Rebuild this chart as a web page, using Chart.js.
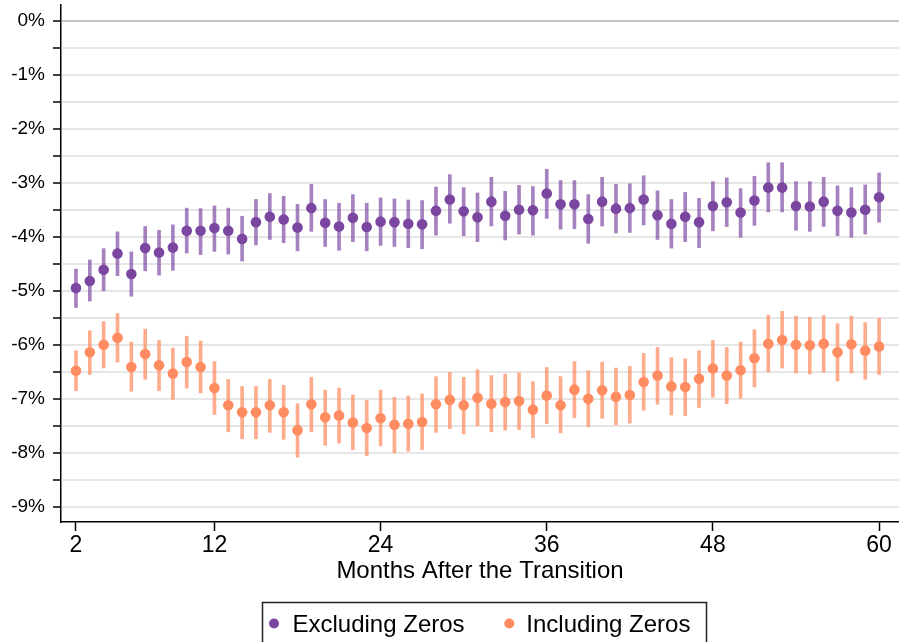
<!DOCTYPE html>
<html>
<head>
<meta charset="utf-8">
<script src="https://cdn.jsdelivr.net/npm/chart.js@4.4.1/dist/chart.umd.min.js"></script>
<style>
html,body{margin:0;padding:0;background:#ffffff;}
#wrap{width:899px;height:642px;position:relative;overflow:hidden;}
</style>
</head>
<body>
<div id="wrap"><canvas id="c" width="899" height="642"></canvas></div>
<script>
// ---- data ----
const months = [2,3,4,5,6,7,8,9,10,11,12,13,14,15,16,17,18,19,20,21,22,23,24,25,26,27,28,29,30,31,32,33,34,35,36,37,38,39,40,41,42,43,44,45,46,47,48,49,50,51,52,53,54,55,56,57,58,59,60];

const seriesNames = ['Excluding Zeros', 'Including Zeros'];

const exclEst = [-4.95,-4.82,-4.61,-4.31,-4.69,-4.21,-4.29,-4.20,-3.89,-3.89,-3.84,-3.89,-4.04,-3.73,-3.63,-3.68,-3.83,
  -3.47,-3.74,-3.81,-3.65,-3.82,-3.72,-3.73,-3.76,-3.77,-3.52,-3.31,-3.53,-3.64,-3.35,-3.61,-3.50,-3.51,-3.20,-3.40,-3.40,-3.67,
  -3.35,-3.48,-3.47,-3.31,-3.60,-3.76,-3.63,-3.73,-3.43,-3.36,-3.55,-3.33,-3.09,-3.09,-3.43,-3.44,-3.35,-3.52,-3.55,-3.50,-3.27];
const exclLo = [-5.31,-5.19,-5.00,-4.72,-5.10,-4.63,-4.71,-4.62,-4.30,-4.33,-4.27,-4.32,-4.45,-4.15,-4.05,-4.11,-4.26,
  -3.90,-4.18,-4.25,-4.09,-4.26,-4.16,-4.18,-4.20,-4.22,-3.97,-3.75,-3.98,-4.09,-3.80,-4.06,-3.95,-3.97,-3.66,-3.86,-3.85,-4.12,
  -3.80,-3.93,-3.92,-3.78,-4.05,-4.21,-4.09,-4.20,-3.89,-3.81,-4.01,-3.79,-3.54,-3.54,-3.88,-3.90,-3.81,-3.98,-4.01,-3.95,-3.73];
const exclHi = [-4.60,-4.43,-4.22,-3.91,-4.28,-3.81,-3.88,-3.78,-3.47,-3.48,-3.43,-3.47,-3.62,-3.31,-3.20,-3.25,-3.40,
  -3.03,-3.31,-3.38,-3.22,-3.38,-3.28,-3.30,-3.32,-3.33,-3.08,-2.85,-3.09,-3.19,-2.90,-3.16,-3.05,-3.07,-2.75,-2.96,-2.96,-3.22,
  -2.90,-3.03,-3.02,-2.87,-3.15,-3.31,-3.18,-3.29,-2.98,-2.91,-3.11,-2.88,-2.63,-2.63,-2.98,-2.98,-2.90,-3.06,-3.09,-3.04,-2.82];

const inclEst = [-6.48,-6.14,-6.00,-5.87,-6.41,-6.17,-6.38,-6.53,-6.32,-6.41,-6.80,-7.12,-7.25,-7.25,-7.12,-7.25,-7.58,
  -7.10,-7.34,-7.31,-7.44,-7.54,-7.36,-7.48,-7.46,-7.43,-7.10,-7.02,-7.12,-6.98,-7.09,-7.06,-7.04,-7.20,-6.94,-7.12,-6.83,-7.00,
  -6.84,-6.96,-6.93,-6.69,-6.57,-6.77,-6.78,-6.63,-6.44,-6.57,-6.47,-6.25,-5.98,-5.91,-6.00,-6.01,-5.98,-6.14,-5.99,-6.11,-6.03];
const inclLo = [-6.85,-6.55,-6.43,-6.32,-6.86,-6.64,-6.85,-7.01,-6.80,-6.89,-7.29,-7.61,-7.74,-7.74,-7.62,-7.75,-8.08,
  -7.61,-7.86,-7.82,-7.94,-8.05,-7.87,-8.00,-7.97,-7.94,-7.62,-7.55,-7.65,-7.50,-7.61,-7.58,-7.57,-7.72,-7.46,-7.63,-7.35,-7.52,
  -7.36,-7.48,-7.45,-7.21,-7.10,-7.30,-7.31,-7.16,-6.97,-7.09,-6.99,-6.78,-6.50,-6.43,-6.52,-6.54,-6.51,-6.67,-6.52,-6.64,-6.55];
const inclHi = [-6.11,-5.74,-5.57,-5.42,-5.95,-5.71,-5.92,-6.06,-5.84,-5.93,-6.31,-6.64,-6.77,-6.77,-6.64,-6.75,-7.09,
  -6.60,-6.84,-6.80,-6.93,-7.03,-6.84,-6.97,-6.95,-6.91,-6.59,-6.51,-6.60,-6.46,-6.57,-6.54,-6.52,-6.68,-6.42,-6.59,-6.31,-6.48,
  -6.32,-6.43,-6.40,-6.16,-6.05,-6.24,-6.26,-6.11,-5.92,-6.05,-5.95,-5.72,-5.45,-5.38,-5.47,-5.49,-5.46,-5.61,-5.47,-5.59,-5.51];

const xTicks = [2,12,24,36,48,60];
const yTicks = [0,-0.5,-1,-1.5,-2,-2.5,-3,-3.5,-4,-4.5,-5,-5.5,-6,-6.5,-7,-7.5,-8,-8.5,-9];
const yMajor = [0,-1,-2,-3,-4,-5,-6,-7,-8,-9];
const yLabels = ['0%','-1%','-2%','-3%','-4%','-5%','-6%','-7%','-8%','-9%'];
const xTitle = 'Months After the Transition';

// ---- style ----
const FONT = "'Liberation Sans', Arial, Helvetica, sans-serif";
const PURPLE = '#7a46a0';
const PURPLE_BAR = 'rgba(122,70,160,0.68)';
const ORANGE = '#ff8c61';
const ORANGE_BAR = 'rgba(255,140,97,0.72)';

const pts = (ys) => months.map((m, i) => ({x: m, y: ys[i]}));
const bars = (lo, hi) => months.map((m, i) => ({x: m, y: [lo[i], hi[i]]}));

const noPad = s => { s.paddingTop = 0; s.paddingBottom = 0; s.paddingLeft = 0; s.paddingRight = 0; };

const legendBox = {
  id: 'legendBox',
  afterDraw(chart) {
    const ctx = chart.ctx;
    ctx.save();
    ctx.strokeStyle = '#222';
    ctx.lineWidth = 1.5;
    ctx.strokeRect(262.5, 602.5, 444, 60);
    const items = [
      {dot: 274, text: 292.5, color: PURPLE, label: seriesNames[0]},
      {dot: 509.3, text: 526.3, color: ORANGE, label: seriesNames[1]}
    ];
    ctx.font = '24px ' + FONT;
    ctx.textBaseline = 'alphabetic';
    ctx.textAlign = 'left';
    items.forEach(it => {
      ctx.fillStyle = it.color;
      ctx.beginPath();
      ctx.arc(it.dot, 623.5, 5, 0, Math.PI * 2);
      ctx.fill();
      ctx.fillStyle = '#000';
      ctx.fillText(it.label, it.text, 632);
    });
    ctx.restore();
  }
};

new Chart(document.getElementById('c'), {
  type: 'scatter',
  data: {
    datasets: [
      {type: 'scatter', label: seriesNames[0], data: pts(exclEst), backgroundColor: PURPLE, borderColor: PURPLE, pointRadius: 5.3, pointBorderWidth: 0, order: 0},
      {type: 'scatter', label: seriesNames[1], data: pts(inclEst), backgroundColor: ORANGE, borderColor: ORANGE, pointRadius: 5.3, pointBorderWidth: 0, order: 0},
      {type: 'bar', label: seriesNames[0] + ' CI', data: bars(exclLo, exclHi), backgroundColor: PURPLE_BAR, borderWidth: 0, barThickness: 3, grouped: false, order: 1},
      {type: 'bar', label: seriesNames[1] + ' CI', data: bars(inclLo, inclHi), backgroundColor: ORANGE_BAR, borderWidth: 0, barThickness: 3, grouped: false, order: 1}
    ]
  },
  options: {
    responsive: false,
    animation: false,
    devicePixelRatio: 1,
    layout: {autoPadding: false, padding: {top: 5, left: 0, right: 0, bottom: 0}},
    plugins: {legend: {display: false}, tooltip: {enabled: false}},
    scales: {
      x: {
        type: 'linear', min: 0.92, max: 61.44, offset: false,
        afterBuildTicks: s => { s.ticks = xTicks.map(v => ({value: v})); },
        afterFit: s => { s.height = 120; noPad(s); },
        grid: {offset: false, drawOnChartArea: false, drawTicks: true, tickLength: 9, tickColor: '#000', tickWidth: 1.5},
        border: {display: true, color: '#000', width: 1.5},
        ticks: {font: {size: 23, family: FONT}, color: '#000', padding: 1, maxRotation: 0, autoSkip: false},
        title: {display: true, text: xTitle, color: '#000', font: {size: 24, family: FONT}, padding: {top: 0, bottom: 56}}
      },
      y: {
        type: 'linear', min: -9.28, max: 0.29, beginAtZero: false,
        afterBuildTicks: s => { s.ticks = yTicks.map(v => ({value: v})); },
        afterFit: s => { s.width = 61; noPad(s); },
        grid: {
          offset: false, drawTicks: true, tickLength: 8, tickColor: '#000', tickWidth: 1.5, lineWidth: 2,
          color: c => (c.tick && c.tick.value === 0) ? '#c6c6c6' : '#e6e6e6'
        },
        border: {display: true, color: '#000', width: 1.5},
        ticks: {
          font: {size: 19, family: FONT}, color: '#000', padding: 8, autoSkip: false,
          callback: v => { const k = yMajor.indexOf(v); return k >= 0 ? yLabels[k] : ''; }
        }
      }
    }
  },
  plugins: [legendBox]
});
</script>
</body>
</html>
